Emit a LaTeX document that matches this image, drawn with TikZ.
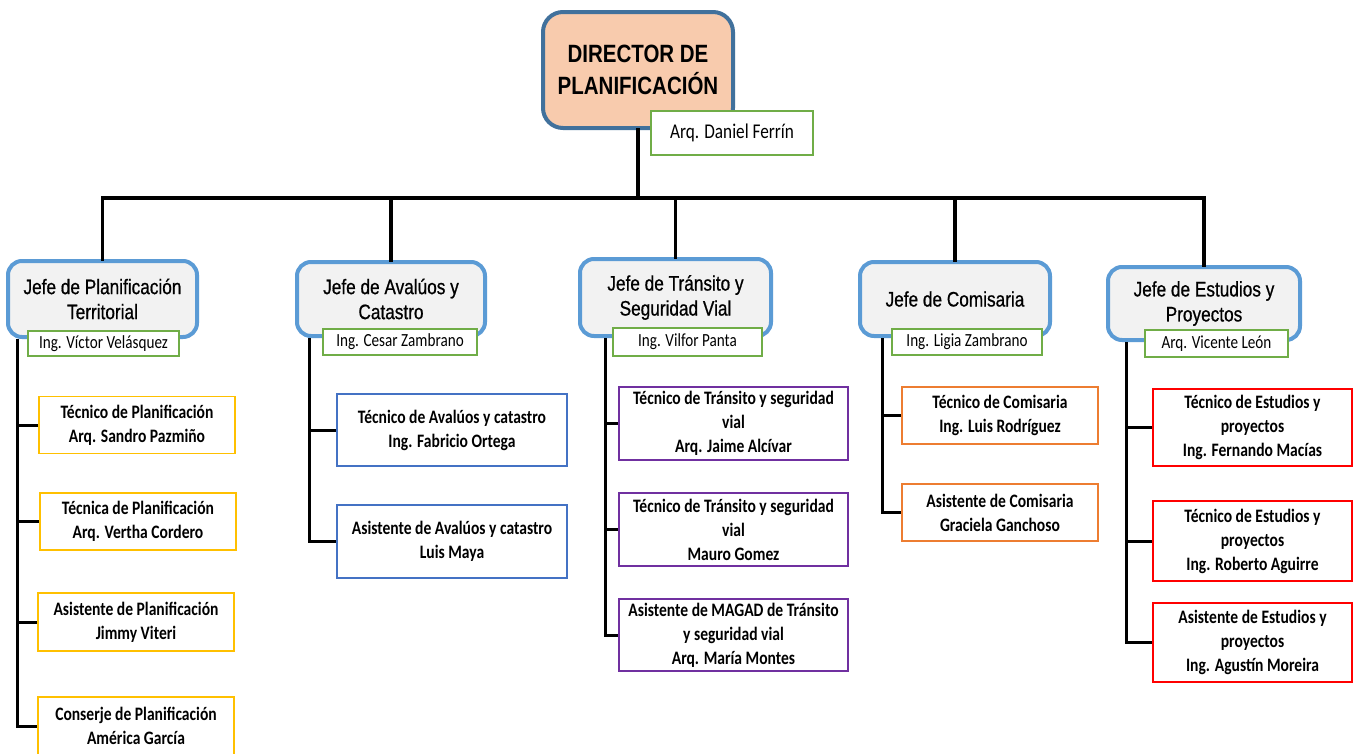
\documentclass[tikz,border=0pt]{standalone}
\usepackage{fontspec}
\setmainfont{Carlito}[FakeStretch=0.82]
\newfontfamily\arialn{Liberation Sans}[FakeStretch=0.82]
\newfontfamily\arialnh{Liberation Sans}[FakeStretch=0.82,FakeBold=0.7]
\definecolor{peach}{HTML}{F8CBAD}
\definecolor{dirblue}{HTML}{41719C}
\definecolor{headblue}{HTML}{5B9BD5}
\definecolor{headfill}{HTML}{F2F2F2}
\definecolor{cgreen}{HTML}{70AD47}
\definecolor{cyellow}{HTML}{FFC000}
\definecolor{cblue}{HTML}{4472C4}
\definecolor{cpurple}{HTML}{7030A0}
\definecolor{corange}{HTML}{ED7D31}
\definecolor{cred}{HTML}{FF0000}
\tikzset{
  director/.style={draw=dirblue, fill=peach, line width=4pt, rounded corners=20pt,
    minimum width=190pt, minimum height=116pt, inner sep=0pt, align=center,
    font=\arialn\bfseries\fontsize{25}{32}\selectfont},
  head/.style={draw=headblue, fill=headfill, line width=4pt, rounded corners=14pt,
    inner sep=0pt, align=center, font=\arialnh\fontsize{21}{25}\selectfont},
  namebox/.style={draw=cgreen, fill=white, line width=1.5pt, inner sep=0pt,
    align=center, font=\fontsize{18.5}{22}\selectfont},
  child/.style={draw=#1, fill=white, line width=1.5pt, inner sep=0pt,
    align=center, font=\bfseries\fontsize{19}{24}\selectfont},
  bus/.style={line width=3.5pt, line cap=rect},
  link/.style={line width=3pt},
}
\begin{document}
\begin{tikzpicture}[x=1pt,y=-1pt]
\useasboundingbox (0,0) rectangle (1361,753);
\clip (0,0) rectangle (1361,753);
\fill[white] (0,0) rectangle (1361,753);

% coordinates
\coordinate (busL) at (102,198);
\coordinate (v1) at (17,0);
\coordinate (v2) at (309,0);
\coordinate (v3) at (605,0);
\coordinate (v4) at (882,0);
\coordinate (v5) at (1126,0);

% director
\node[director] (dir) at (638,70) {DIRECTOR DE\\PLANIFICACIÓN};

% heads
\node[head, minimum width=189pt, minimum height=76pt] (h1) at (102.5,299) {Jefe de Planificación\\Territorial};
\node[head, minimum width=188pt, minimum height=74pt] (h2) at (391,299) {Jefe de Avalúos y\\Catastro};
\node[head, minimum width=191pt, minimum height=77pt] (h3) at (675.5,297.5) {Jefe de Tránsito y\\Seguridad Vial};
\node[head, minimum width=190pt, minimum height=74pt] (h4) at (955,299) {Jefe de Comisaria};
\node[head, minimum width=192pt, minimum height=73pt] (h5) at (1204,303.5) {Jefe de Estudios y\\Proyectos};

% bus lines
\draw[bus] (dir.south) -- (dir.south |- busL);
\draw[bus] (h1.north |- busL) -- (h5.north |- busL);
\foreach \h in {h1,h2,h3,h4,h5} {\draw[bus] (\h.north |- busL) -- (\h.north);}

% name boxes
\node[namebox, minimum width=162pt, minimum height=44pt, font=\fontsize{21}{25}\selectfont] (dname) at (732,133) {Arq. Daniel Ferrín};
\node[namebox, minimum width=151pt, minimum height=25pt] (n1) at (103.5,343.5) {Ing. Víctor Velásquez};
\node[namebox, minimum width=154pt, minimum height=26pt] (n2) at (400,342) {Ing. Cesar Zambrano};
\node[namebox, minimum width=149pt, minimum height=28pt] (n3) at (687.5,342) {Ing. Vilfor Panta};
\node[namebox, minimum width=150pt, minimum height=26pt] (n4) at (967,342) {Ing. Ligia Zambrano};
\node[namebox, minimum width=143pt, minimum height=27pt] (n5) at (1216.5,343.5) {Arq. Vicente León};

% column 1
\node[child=cyellow, minimum width=196pt, minimum height=57pt] (c11) at (137,425) {Técnico de Planificación\\Arq. Sandro Pazmiño};
\node[child=cyellow, minimum width=196pt, minimum height=57pt] (c12) at (138,521.5) {Técnica de Planificación\\Arq. Vertha Cordero};
\node[child=cyellow, minimum width=196pt, minimum height=58pt] (c13) at (136,622) {Asistente de Planificación\\Jimmy Viteri};
\node[child=cyellow, minimum width=196pt, minimum height=58pt] (c14) at (136,726) {Conserje de Planificación\\América García};

% column 2
\node[child=cblue, minimum width=230pt, minimum height=72pt] (c21) at (452,430) {Técnico de Avalúos y catastro\\Ing. Fabricio Ortega};
\node[child=cblue, minimum width=230pt, minimum height=73pt] (c22) at (452,541.5) {Asistente de Avalúos y catastro\\Luis Maya};

% column 3
\node[child=cpurple, minimum width=229pt, minimum height=73pt] (c31) at (733.5,423.5) {Técnico de Tránsito y seguridad\\vial\\Arq. Jaime Alcívar};
\node[child=cpurple, minimum width=229pt, minimum height=73pt] (c32) at (733.5,529.5) {Técnico de Tránsito y seguridad\\vial\\Mauro Gomez};
\node[child=cpurple, minimum width=229pt, minimum height=72pt] (c33) at (733.5,635) {Asistente de MAGAD de Tránsito\\y seguridad vial\\Arq. María Montes};

% column 4
\node[child=corange, minimum width=196pt, minimum height=57pt] (c41) at (1000,415.5) {Técnico de Comisaria\\Ing. Luis Rodríguez};
\node[child=corange, minimum width=196pt, minimum height=57pt] (c42) at (1000,512.5) {Asistente de Comisaria\\Graciela Ganchoso};

% column 5
\node[child=cred, minimum width=199pt, minimum height=77pt] (c51) at (1252.5,427.5) {Técnico de Estudios y\\proyectos\\Ing. Fernando Macías};
\node[child=cred, minimum width=199pt, minimum height=80pt] (c52) at (1252.5,541) {Técnico de Estudios y\\proyectos\\Ing. Roberto Aguirre};
\node[child=cred, minimum width=199pt, minimum height=79pt] (c53) at (1252.5,642.5) {Asistente de Estudios y\\proyectos\\Ing. Agustín Moreira};

% links
\draw[link] (h1.south -| v1) |- (c14.west);
\foreach \c in {c11,c12,c13} {\draw[link] (v1 |- \c.west) -- (\c.west);}
\draw[link] (h2.south -| v2) |- (c22.west);
\draw[link] (v2 |- c21.west) -- (c21.west);
\draw[link] (h3.south -| v3) |- (c33.west);
\foreach \c in {c31,c32} {\draw[link] (v3 |- \c.west) -- (\c.west);}
\draw[link] (h4.south -| v4) |- (c42.west);
\draw[link] (v4 |- c41.west) -- (c41.west);
\draw[link] (h5.south -| v5) |- (c53.west);
\foreach \c in {c51,c52} {\draw[link] (v5 |- \c.west) -- (\c.west);}
\end{tikzpicture}
\end{document}
